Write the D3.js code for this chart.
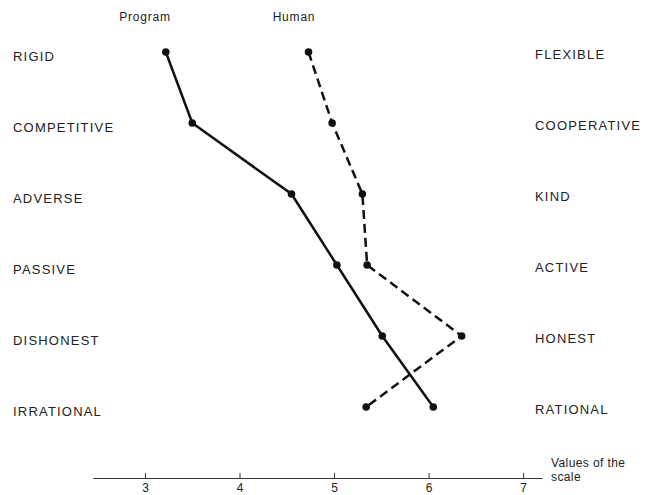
<!DOCTYPE html>
<html>
<head>
<meta charset="utf-8">
<script src="https://cdn.jsdelivr.net/npm/d3@7"></script>
<style>
  body { margin: 0; background: #fff; }
  svg { display: block; font-family: "Liberation Sans", Arial, sans-serif; }
</style>
</head>
<body>
<svg width="648" height="495"></svg>
<script>
// semantic differential scales, left pole / right pole
var leftPoles = ['RIGID', 'COMPETITIVE', 'ADVERSE', 'PASSIVE', 'DISHONEST', 'IRRATIONAL'];
var rightPoles = ['FLEXIBLE', 'COOPERATIVE', 'KIND', 'ACTIVE', 'HONEST', 'RATIONAL'];
var programVals = [3.22, 3.50, 4.55, 5.03, 5.51, 6.05];
var humanVals = [4.73, 4.98, 5.30, 5.35, 6.35, 5.34];
var seriesNames = ['Program', 'Human'];
var tickVals = [3, 4, 5, 6, 7];

var svg = d3.select('svg');

var xScale = d3.scaleLinear().domain([2.45, 7.2]).range([93, 542]);
var yScale = d3.scalePoint().domain(d3.range(leftPoles.length)).range([52, 407]);

// bottom axis
var axis = svg.append('g')
  .attr('transform', 'translate(0, 478)')
  .call(d3.axisBottom(xScale).tickValues(tickVals).tickFormat(d3.format('d'))
    .tickSizeInner(-5).tickSizeOuter(0).tickPadding(5));
axis.select('.domain').attr('stroke', '#333').attr('stroke-width', 1.2);
axis.selectAll('.tick line').attr('stroke', '#333');
axis.selectAll('.tick text')
  .attr('fill', '#222')
  .style('font-size', '12px')
  .style('font-family', '"Liberation Sans", Arial, sans-serif');

svg.append('text')
  .attr('x', 551).attr('y', 467)
  .attr('fill', '#222')
  .style('font-size', '12px')
  .style('letter-spacing', '0.4px')
  .text('Values of the');
svg.append('text')
  .attr('x', 551).attr('y', 481)
  .attr('fill', '#222')
  .style('font-size', '12px')
  .style('letter-spacing', '0.4px')
  .text('scale');

// pole labels
svg.selectAll('text.left')
  .data(leftPoles)
  .enter()
  .append('text')
  .attr('class', 'left')
  .attr('x', 13)
  .attr('y', (d, i) => yScale(i) + 4)
  .attr('dy', '0.35em')
  .attr('fill', '#222')
  .style('font-size', '13px')
  .style('letter-spacing', '1.2px')
  .text(d => d);

svg.selectAll('text.right')
  .data(rightPoles)
  .enter()
  .append('text')
  .attr('class', 'right')
  .attr('x', 535)
  .attr('y', (d, i) => yScale(i) + 2)
  .attr('dy', '0.35em')
  .attr('fill', '#222')
  .style('font-size', '13px')
  .style('letter-spacing', '1.2px')
  .text(d => d);

// series headers
svg.selectAll('text.head')
  .data(seriesNames)
  .enter()
  .append('text')
  .attr('class', 'head')
  .attr('x', (d, i) => i == 0 ? 145 : 294)
  .attr('y', 17)
  .attr('dy', '0.35em')
  .attr('text-anchor', 'middle')
  .attr('fill', '#222')
  .style('font-size', '12px')
  .style('letter-spacing', '0.8px')
  .text(d => d);

var line = d3.line()
  .x(d => xScale(d))
  .y((d, i) => yScale(i));

svg.append('path')
  .datum(programVals)
  .attr('d', line)
  .attr('fill', 'none')
  .attr('stroke', '#111')
  .attr('stroke-width', 2.5);

svg.append('path')
  .datum(humanVals)
  .attr('d', line)
  .attr('fill', 'none')
  .attr('stroke', '#111')
  .attr('stroke-width', 2.5)
  .attr('stroke-dasharray', '9,5');

[programVals, humanVals].forEach(function(vals) {
  svg.append('g')
    .selectAll('circle')
    .data(vals)
    .enter()
    .append('circle')
    .attr('r', 3.8)
    .attr('cx', d => xScale(d))
    .attr('cy', (d, i) => yScale(i))
    .attr('fill', '#111');
});
</script>
</body>
</html>
